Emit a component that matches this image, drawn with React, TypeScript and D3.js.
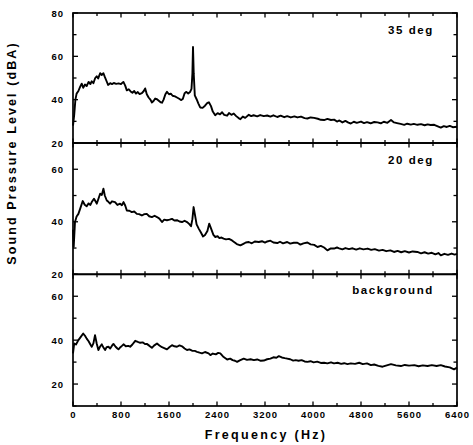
import * as d3 from "d3";

// frequency axis (Hz)
const FREQ_LABELS = [0, 800, 1600, 2400, 3200, 4000, 4800, 5600, 6400];
const FREQ_MINOR = [400, 1200, 2000, 2800, 3600, 4400, 5200, 6000];

const PANEL_NAMES = ["35 deg", "20 deg", "background"];
const Y_DOMAINS: [number, number][] = [[20, 80], [20, 70], [10, 70]];
const Y_LABELS = [[20, 40, 60, 80], [20, 40, 60], [20, 40, 60]];

// [frequency Hz, dBA]
const spl35: [number, number][] = [
  [0, 28], [20, 33], [40, 40], [60, 42.8], [90, 44], [120, 46], [145, 47.4], [170, 45.5], [200, 47],
  [228, 46.3], [260, 48.2], [290, 47.2], [312, 48.5], [340, 47.6], [370, 50], [395, 50.8], [420, 49.8],
  [452, 52.2], [480, 51.4], [507, 52.2], [530, 50.5], [560, 48.5], [585, 46.8], [620, 47.6], [650, 47.2],
  [680, 47.7], [720, 47.3], [760, 47.5], [800, 47.2], [840, 48.2], [870, 46.5], [897, 44.3], [930, 44.8],
  [960, 43.8], [990, 43.2], [1020, 44], [1050, 42.8], [1080, 43.5], [1110, 42.6], [1148, 43], [1180, 44],
  [1203, 45.2], [1230, 42.5], [1260, 41], [1290, 40], [1315, 38.7], [1345, 39.5], [1370, 40.5], [1400, 40.2],
  [1430, 39.5], [1460, 38.8], [1483, 38.6], [1510, 40], [1540, 42.5], [1566, 43.6], [1600, 42.5], [1630, 42.8],
  [1660, 41.8], [1700, 41.5], [1733, 41], [1770, 40.4], [1800, 39.8], [1830, 40.3], [1860, 43], [1890, 43.6],
  [1920, 42.8], [1950, 43.5], [1975, 45], [1990, 52], [2000, 64.3], [2012, 52], [2030, 42], [2060, 40.2],
  [2090, 38.2], [2120, 36.4], [2160, 36.2], [2200, 37.2], [2240, 38.5], [2265, 38.8], [2300, 37], [2330, 34.5],
  [2370, 32.8], [2410, 33.8], [2450, 33.2], [2485, 34.2], [2520, 33], [2568, 32.6], [2600, 33.8], [2640, 33],
  [2680, 33.6], [2720, 32.4], [2760, 31.5], [2790, 31], [2830, 32.2], [2870, 31.6], [2930, 33], [2970, 32.4],
  [3010, 32.8], [3070, 32.3], [3120, 32.9], [3180, 32.4], [3237, 32.7], [3290, 32.2], [3340, 32.8], [3405, 32],
  [3460, 32.6], [3520, 31.9], [3570, 32.4], [3630, 31.8], [3690, 32.3], [3740, 31.8], [3800, 32.2], [3860, 31.5],
  [3907, 31.3], [3960, 31.8], [4018, 31.6], [4080, 31.2], [4130, 30.7], [4185, 30.6], [4240, 31.1], [4300, 30.6],
  [4352, 30.8], [4400, 29.9], [4440, 30.4], [4490, 29.5], [4540, 30.2], [4590, 29.4], [4630, 29], [4680, 29.8],
  [4730, 29.3], [4800, 29.9], [4850, 29.2], [4900, 29.6], [4960, 29.1], [5020, 29.7], [5075, 29.5], [5130, 29.1],
  [5180, 29.8], [5240, 29.3], [5300, 30.6], [5350, 29.5], [5400, 29.2], [5460, 28.8], [5520, 28.4], [5570, 28.9],
  [5630, 28.5], [5680, 28.8], [5740, 28.4], [5800, 28.7], [5860, 28.2], [5910, 28.6], [5960, 28.3], [6020, 28.4],
  [6070, 27.8], [6130, 27.1], [6180, 27.8], [6230, 27.4], [6280, 27.9], [6330, 27.3], [6400, 27.5],
];

const spl20: [number, number][] = [
  [0, 37], [12, 30.5], [33, 39.9], [60, 42], [90, 43], [120, 45], [162, 47.9], [195, 46.5], [228, 45.9],
  [260, 47], [290, 46.4], [312, 47.5], [350, 48.8], [375, 47.8], [396, 46.9], [420, 48.5], [452, 50.7],
  [480, 50.2], [507, 52.6], [530, 50], [563, 48.1], [590, 47.6], [618, 46.9], [650, 47.8], [700, 47.5],
  [740, 46.4], [785, 46.9], [815, 46.3], [842, 47.5], [870, 46.2], [897, 44.3], [940, 44.2], [980, 43.7],
  [1020, 43.9], [1064, 43], [1100, 42.9], [1148, 42.4], [1190, 42.9], [1230, 43], [1270, 42.1], [1315, 41.8],
  [1360, 42.3], [1400, 41.8], [1440, 41.2], [1483, 39.9], [1520, 40.8], [1566, 40.6], [1610, 40.8], [1650, 41.1],
  [1690, 40.5], [1733, 40.6], [1775, 40.1], [1817, 39.9], [1860, 40.4], [1900, 39.9], [1935, 39.2], [1967, 38.3],
  [1990, 41], [2010, 45.6], [2030, 43], [2060, 39], [2095, 37.4], [2130, 36], [2167, 34.4], [2200, 35],
  [2240, 36.5], [2270, 39.3], [2300, 37.5], [2340, 35], [2372, 34.2], [2410, 34.5], [2440, 33.8], [2475, 34],
  [2510, 33.6], [2550, 33.3], [2600, 33.5], [2650, 32.9], [2690, 32.2], [2730, 31.5], [2790, 31], [2840, 31.6],
  [2880, 32.1], [2930, 32.3], [2980, 31.8], [3030, 32.5], [3097, 32.3], [3150, 32.6], [3200, 32.1], [3237, 32.5],
  [3290, 32.8], [3340, 32.1], [3405, 31.9], [3450, 32.4], [3500, 31.8], [3570, 32.3], [3620, 31.7], [3680, 32],
  [3740, 32], [3790, 31.3], [3840, 31.8], [3907, 32.1], [3960, 31.4], [4020, 31.2], [4075, 30.4], [4130, 30.8],
  [4185, 30.2], [4240, 29.1], [4290, 29.8], [4350, 29.8], [4400, 30.2], [4436, 29.9], [4490, 29.5], [4540, 30],
  [4600, 29.6], [4660, 29.9], [4720, 29.4], [4780, 29.9], [4840, 29.5], [4910, 29.8], [4970, 29.3], [5030, 29.6],
  [5100, 29], [5160, 29.3], [5220, 28.8], [5290, 29.1], [5350, 28.5], [5410, 28.9], [5470, 28.4], [5530, 28.8],
  [5600, 28.3], [5660, 28.7], [5740, 28.5], [5800, 28], [5860, 28.4], [5920, 27.9], [5980, 28.2], [6040, 27.6],
  [6090, 28.1], [6130, 27.2], [6190, 27.8], [6250, 27.4], [6310, 27.9], [6360, 27.5], [6400, 27.8],
];

const splBg: [number, number][] = [
  [0, 34], [20, 38.5], [50, 38], [90, 40], [130, 41.5], [170, 43], [200, 42], [228, 40.7], [260, 39.5],
  [290, 38], [312, 37], [340, 38.5], [367, 42.3], [395, 38.5], [423, 35.5], [450, 37], [480, 38.1], [510, 36.5],
  [535, 35.5], [560, 36.8], [590, 37], [620, 36.2], [650, 37.5], [674, 38.3], [710, 37], [740, 36.2], [758, 35.8],
  [790, 36.8], [820, 37.5], [842, 38.1], [880, 37.2], [920, 37.4], [953, 37], [990, 38], [1037, 39.7], [1080, 39.2],
  [1120, 38.8], [1160, 39], [1200, 38.2], [1230, 38.3], [1270, 37.5], [1315, 36.5], [1350, 37.5], [1400, 38.5],
  [1440, 37.6], [1483, 36.8], [1520, 36.4], [1566, 35.8], [1610, 36.9], [1650, 37.7], [1690, 37.2], [1733, 37],
  [1775, 37.6], [1817, 37.2], [1860, 36.2], [1900, 35.5], [1940, 35.8], [1984, 35.2], [2030, 35.1], [2067, 34.7],
  [2110, 34.3], [2150, 34], [2200, 34.6], [2260, 34], [2290, 33.2], [2330, 33.9], [2380, 33.5], [2420, 34.2],
  [2455, 34], [2500, 32.6], [2540, 31.8], [2570, 31.2], [2620, 31.6], [2660, 30.9], [2700, 30.6], [2735, 30.1],
  [2780, 30.8], [2845, 31.6], [2900, 31], [2960, 31.3], [3015, 30.9], [3070, 31.2], [3130, 30.6], [3180, 30.7],
  [3235, 31.3], [3290, 31.6], [3340, 32.2], [3390, 32], [3430, 32.7], [3480, 32.1], [3530, 31.8], [3570, 31.6],
  [3620, 31.3], [3670, 30.7], [3710, 30.9], [3760, 30.6], [3810, 30.9], [3860, 30.3], [3905, 30.1], [3960, 30.4],
  [4010, 29.9], [4070, 30.2], [4130, 29.6], [4185, 29.7], [4240, 29.4], [4300, 29.9], [4350, 29.4], [4410, 29.7],
  [4470, 29.2], [4520, 29.5], [4575, 29.1], [4630, 29.4], [4700, 29.2], [4770, 29.7], [4830, 29.1], [4900, 29.4],
  [4965, 28.6], [5020, 28.9], [5090, 28.3], [5160, 27.9], [5230, 28.5], [5300, 29.1], [5380, 28.5], [5465, 28.2],
  [5530, 28.7], [5600, 28.4], [5690, 28.6], [5760, 28.1], [5830, 28.5], [5910, 28.2], [5980, 28.6], [6060, 28.2],
  [6130, 28.6], [6200, 28], [6280, 27.6], [6350, 26.7], [6400, 27.5],
];

const SERIES = [spl35, spl20, splBg];

const W = 473;
const H = 445;
const LEFT = 73;
const RIGHT = 457;
const EDGES = [13, 143, 274.3, 406]; // panel boundaries, top to bottom
const FONT = "'Liberation Sans', Arial, Helvetica, sans-serif";

export default function App() {
  const x = d3.scaleLinear().domain([0, 6400]).range([LEFT, RIGHT]);

  const panels = SERIES.map((data, i) => {
    const [lo, hi] = Y_DOMAINS[i];
    const y = d3.scaleLinear().domain([lo, hi]).range([EDGES[i + 1], EDGES[i]]);
    const line = d3
      .line<[number, number]>()
      .x((d) => x(d[0]))
      .y((d) => y(d[1]));
    const yTicks = d3.range(lo, hi + 0.1, 10);
    return { y, path: line(data) ?? "", yTicks, top: EDGES[i], bot: EDGES[i + 1] };
  });

  const xAll = [...FREQ_LABELS, ...FREQ_MINOR];

  return (
    <svg
      width={W}
      height={H}
      style={{ position: "absolute", left: 0, top: 0, background: "#fff" }}
      fontFamily={FONT}
      fontWeight="bold"
    >
      <rect width={W} height={H} fill="#fff" />
      {panels.map((p, i) => (
        <g key={i}>
          {/* y ticks, both sides, inward */}
          {p.yTicks.map((t) => {
            const major = t % 20 === 0;
            const len = major ? 5 : 3.5;
            return (
              <g key={t} stroke="#000" strokeWidth={1.3}>
                <line x1={LEFT} x2={LEFT + len} y1={p.y(t)} y2={p.y(t)} />
                <line x1={RIGHT} x2={RIGHT - len} y1={p.y(t)} y2={p.y(t)} />
              </g>
            );
          })}
          {/* x ticks top and bottom, inward */}
          {xAll.map((f) => {
            const len = f % 800 === 0 ? 4.5 : 3;
            return (
              <g key={f} stroke="#000" strokeWidth={1.3}>
                <line x1={x(f)} x2={x(f)} y1={p.top} y2={p.top + len} />
                <line x1={x(f)} x2={x(f)} y1={p.bot} y2={p.bot - len} />
              </g>
            );
          })}
          <rect
            x={LEFT}
            y={p.top}
            width={RIGHT - LEFT}
            height={p.bot - p.top}
            fill="none"
            stroke="#000"
            strokeWidth={1.7}
          />
          {Y_LABELS[i].map((t) => (
            <text
              key={t}
              x={64}
              y={p.y(t) + 3.5}
              textAnchor="end"
              fontSize={9.5}
              letterSpacing={1}
            >
              {t}
            </text>
          ))}
          <path d={p.path} fill="none" stroke="#000" strokeWidth={1.9} strokeLinejoin="round" />
          <text x={434} y={p.top + (i === 2 ? 20 : 21)} textAnchor="end" fontSize={11.5} letterSpacing={1.6}>
            {PANEL_NAMES[i]}
          </text>
        </g>
      ))}

      {FREQ_LABELS.map((f) => (
        <text key={f} x={x(f) + 0.5} y={417.5} textAnchor="middle" fontSize={9.5} letterSpacing={1}>
          {f}
        </text>
      ))}

      <text x={266} y={439} textAnchor="middle" fontSize={12.5} letterSpacing={2.3}>
        Frequency (Hz)
      </text>
      <text
        transform="translate(16,153) rotate(-90)"
        textAnchor="middle"
        fontSize={12.5}
        letterSpacing={2.1}
      >
        Sound Pressure Level (dBA)
      </text>
    </svg>
  );
}
